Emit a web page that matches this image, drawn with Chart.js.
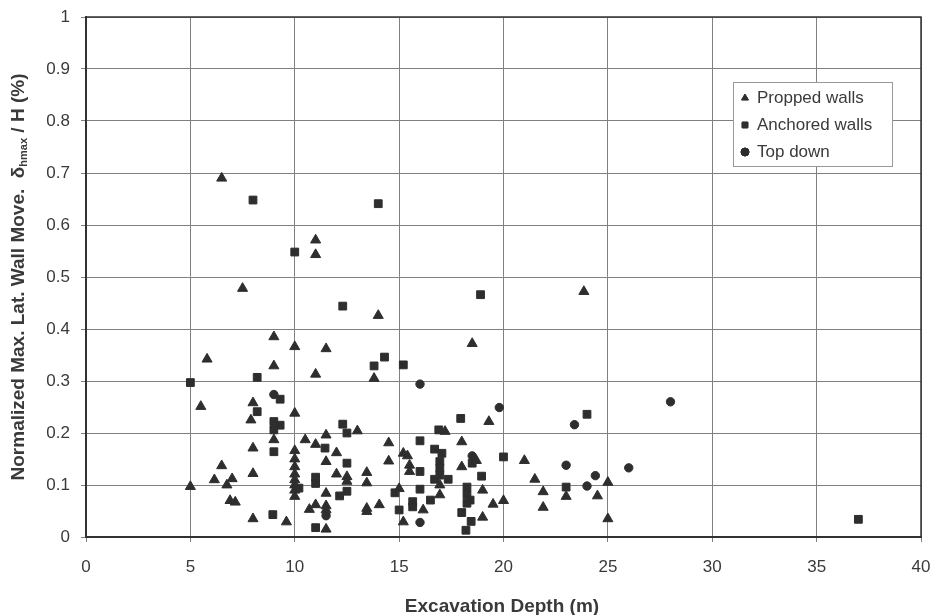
<!DOCTYPE html>
<html>
<head>
<meta charset="utf-8">
<title>Wall movement vs excavation depth</title>
<script src="https://cdn.jsdelivr.net/npm/chart.js@4/dist/chart.umd.min.js"></script>
<style>
  html, body { margin: 0; padding: 0; background: #fff; }
  #wrap { width: 936px; height: 615px; }
</style>
</head>
<body>
<div id="wrap"><canvas id="wallChart" width="936" height="615"></canvas></div>
<script>
// [excavation depth (m), normalized max lateral wall movement (%)]
const proppedWalls = [
    [6.5, 0.69], [7.5, 0.478], [11.0, 0.571], [11.0, 0.543], [14.0, 0.426], [18.5, 0.372], [23.85, 0.472],
    [9.0, 0.385], [10.0, 0.366], [11.5, 0.362], [5.8, 0.342], [9.0, 0.329], [11.0, 0.313], [13.8, 0.305],
    [5.5, 0.251], [8.0, 0.258], [7.9, 0.225], [10.0, 0.238], [19.3, 0.222], [13.0, 0.204], [17.2, 0.203],
    [9.0, 0.187], [10.5, 0.187], [11.5, 0.196], [11.0, 0.178], [14.5, 0.181], [18.0, 0.183], [8.0, 0.171],
    [10.0, 0.166], [12.0, 0.162], [15.2, 0.161], [15.4, 0.156], [21.0, 0.147], [18.7, 0.147], [14.5, 0.146],
    [11.5, 0.145], [10.0, 0.150], [10.0, 0.135], [10.0, 0.121], [10.0, 0.110], [10.0, 0.100], [10.0, 0.090],
    [10.0, 0.078], [6.5, 0.137], [6.15, 0.110], [7.0, 0.112], [6.75, 0.100], [8.0, 0.122], [5.0, 0.097],
    [6.9, 0.070], [7.15, 0.067], [8.0, 0.035], [9.6, 0.029], [10.7, 0.053], [11.0, 0.062], [15.5, 0.138],
    [15.5, 0.126], [12.0, 0.121], [12.5, 0.116], [13.45, 0.124], [13.45, 0.104], [12.5, 0.107], [18.0, 0.135],
    [19.0, 0.090], [16.95, 0.100], [16.95, 0.081], [11.5, 0.084], [15.0, 0.093], [20.0, 0.070], [19.5, 0.063],
    [14.05, 0.062], [11.5, 0.060], [11.5, 0.052], [13.45, 0.055], [13.45, 0.049], [16.15, 0.052], [19.0, 0.038],
    [15.2, 0.029], [11.5, 0.015], [21.5, 0.111], [21.9, 0.087], [23.0, 0.078], [24.5, 0.079], [21.9, 0.057],
    [25.0, 0.035], [25.0, 0.105]
];

const anchoredWalls = [
    [8.0, 0.648], [10.0, 0.548], [14.0, 0.641], [12.3, 0.444], [18.9, 0.466], [14.3, 0.346], [13.8, 0.329],
    [15.2, 0.331], [5.0, 0.297], [8.2, 0.307], [9.3, 0.265], [8.2, 0.241], [9.0, 0.222], [9.3, 0.215],
    [9.0, 0.206], [12.3, 0.217], [12.5, 0.200], [17.95, 0.228], [16.9, 0.206], [16.0, 0.185], [24.0, 0.236],
    [11.45, 0.171], [9.0, 0.164], [16.7, 0.169], [17.05, 0.161], [20.0, 0.154], [12.5, 0.142], [18.5, 0.142],
    [16.95, 0.145], [16.95, 0.132], [16.95, 0.119], [16.0, 0.126], [18.95, 0.117], [11.0, 0.115], [11.0, 0.103],
    [16.7, 0.111], [17.35, 0.111], [10.2, 0.094], [18.25, 0.096], [16.0, 0.092], [12.5, 0.088], [12.15, 0.079],
    [14.8, 0.085], [18.25, 0.081], [18.4, 0.071], [18.25, 0.065], [16.5, 0.071], [15.65, 0.068], [15.65, 0.058],
    [15.0, 0.052], [18.0, 0.047], [8.95, 0.043], [18.45, 0.030], [18.2, 0.013], [11.0, 0.018], [23.0, 0.096],
    [37.0, 0.034]
];

const topDown = [
    [9.0, 0.274], [16.0, 0.294], [19.8, 0.249], [28.0, 0.260], [23.4, 0.216], [23.0, 0.138], [26.0, 0.133],
    [24.4, 0.118], [24.0, 0.098], [18.5, 0.156], [11.5, 0.041], [16.0, 0.028]
];

const seriesNames = ['Propped walls', 'Anchored walls', 'Top down'];
const xTitle = 'Excavation Depth (m)';

const markColor = '#2e2e2e';
const textColor = '#3a3a3a';
const gridColor = '#808080';

function toPoints(pairs) {
    return pairs.map(p => ({ x: p[0], y: p[1] }));
}

// Axis titles (y title has a subscripted delta) and the boxed legend
const annotations = {
    id: 'annotations',
    afterDraw(chart) {
        const ctx = chart.ctx;
        const area = chart.chartArea;
        ctx.save();

        // plot frame
        ctx.strokeStyle = '#333';
        ctx.lineWidth = 1.5;
        ctx.strokeRect(area.left, area.top, area.right - area.left, area.bottom - area.top);

        ctx.fillStyle = textColor;
        ctx.textBaseline = 'middle';

        // x title
        ctx.font = 'bold 19px "Liberation Sans", Arial, sans-serif';
        ctx.textAlign = 'center';
        ctx.fillText(xTitle, 502, 607);

        // y title, rotated
        const main = 'Normalized Max. Lat. Wall Move.  \u03B4';
        const sub = 'hmax';
        const tail = ' / H (%)';
        const big = 'bold 19px "Liberation Sans", Arial, sans-serif';
        const small = 'bold 11px "Liberation Sans", Arial, sans-serif';
        ctx.font = big;
        const wMain = ctx.measureText(main).width;
        const wTail = ctx.measureText(tail).width;
        ctx.font = small;
        const wSub = ctx.measureText(sub).width;
        const total = wMain + wSub + wTail;
        ctx.translate(19, 277);
        ctx.rotate(-Math.PI / 2);
        ctx.textAlign = 'left';
        let x = -total / 2;
        ctx.font = big;
        ctx.fillText(main, x, 0);
        x += wMain;
        ctx.font = small;
        ctx.fillText(sub, x, 5);
        x += wSub;
        ctx.font = big;
        ctx.fillText(tail, x, 0);
        ctx.setTransform(1, 0, 0, 1, 0, 0);

        // legend box
        const box = { left: 733, top: 82, width: 159, height: 84 };
        ctx.fillStyle = '#fff';
        ctx.fillRect(box.left, box.top, box.width, box.height);
        ctx.strokeStyle = '#999';
        ctx.lineWidth = 1;
        ctx.strokeRect(box.left + 0.5, box.top + 0.5, box.width, box.height);

        ctx.font = '17px "Liberation Sans", Arial, sans-serif';
        ctx.textAlign = 'left';
        chart.data.datasets.forEach((ds, i) => {
            const y = 98 + i * 27;
            Chart.helpers.drawPoint(ctx, {
                pointStyle: ds.pointStyle,
                radius: 4,
                borderWidth: 1
            }, 745, y);
            ctx.fillStyle = markColor;
            ctx.strokeStyle = markColor;
            ctx.fill();
            ctx.stroke();
            ctx.fillStyle = textColor;
            ctx.fillText(ds.label, 757, y);
        });

        ctx.restore();
    }
};

const wallCtx = document.getElementById('wallChart');
new Chart(wallCtx, {
    type: 'scatter',
    data: {
        datasets: [{
            label: seriesNames[0],
            data: toPoints(proppedWalls),
            pointStyle: 'triangle',
            pointRadius: 5.8,
            backgroundColor: markColor,
            borderColor: markColor,
            borderWidth: 1
        }, {
            label: seriesNames[1],
            data: toPoints(anchoredWalls),
            pointStyle: 'rect',
            pointRadius: 5.5,
            backgroundColor: markColor,
            borderColor: markColor,
            borderWidth: 1
        }, {
            label: seriesNames[2],
            data: toPoints(topDown),
            pointStyle: 'circle',
            pointRadius: 4.2,
            backgroundColor: markColor,
            borderColor: markColor,
            borderWidth: 1
        }]
    },
    options: {
        responsive: false,
        animation: false,
        events: [],
        layout: { padding: { top: 17, right: 15, left: 0, bottom: 0 } },
        plugins: {
            legend: { display: false },
            tooltip: { enabled: false }
        },
        scales: {
            x: {
                type: 'linear',
                min: 0,
                max: 40,
                afterFit(scale) {
                    scale.height = 78;
                    scale.paddingLeft = 0;
                    scale.paddingRight = 0;
                },
                ticks: {
                    stepSize: 5,
                    color: textColor,
                    padding: 15,
                    font: { family: '"Liberation Sans", Arial, sans-serif', size: 17 }
                },
                grid: { color: gridColor, lineWidth: 1, tickLength: 5 },
                border: { color: '#333', width: 2 }
            },
            y: {
                min: 0,
                max: 1,
                afterFit(scale) {
                    scale.width = 86;
                    scale.paddingTop = 0;
                    scale.paddingBottom = 0;
                },
                ticks: {
                    stepSize: 0.1,
                    color: textColor,
                    padding: 11,
                    font: { family: '"Liberation Sans", Arial, sans-serif', size: 17 },
                    callback: v => Math.round(v * 10) / 10
                },
                grid: { color: gridColor, lineWidth: 1, tickLength: 5 },
                border: { color: '#333', width: 2 }
            }
        }
    },
    plugins: [annotations]
});
</script>
</body>
</html>
